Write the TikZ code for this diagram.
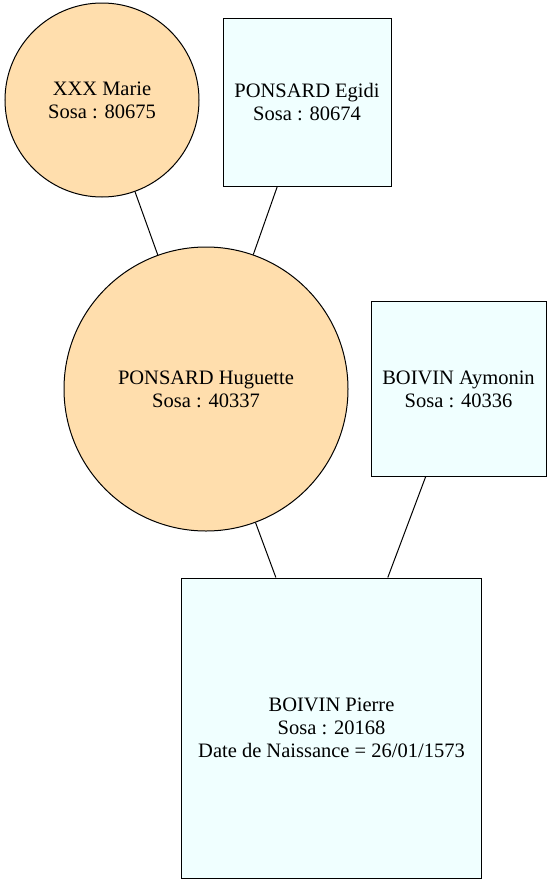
\documentclass[tikz,border=0pt]{standalone}
\usepackage{fontspec}
\setmainfont{Liberation Serif}
\definecolor{femme}{HTML}{FFDEAD}
\definecolor{homme}{HTML}{F0FFFF}

\begin{document}
\begin{tikzpicture}[x=1pt,y=-1pt,line width=1pt,font=\fontsize{20.5}{23}\selectfont]
		\useasboundingbox (0,0) rectangle (551,884);
		\draw (102,100) node [circle, draw, fill=femme, inner sep=0pt, minimum size=194pt, align=center] (marie) {XXX Marie\\Sosa : 80675};
		\draw (307,102) node [rectangle, draw, fill=homme, inner sep=0pt, minimum size=168pt, align=center] (egidi) {PONSARD Egidi\\Sosa : 80674};
		\draw (206,389) node [circle, draw, fill=femme, inner sep=0pt, minimum size=284pt, align=center] (huguette) {PONSARD Huguette\\Sosa : 40337};
		\draw (458.5,389) node [rectangle, draw, fill=homme, inner sep=0pt, minimum size=175pt, align=center] (aymonin) {BOIVIN Aymonin\\Sosa : 40336};
		\draw (331.5,728) node [rectangle, draw, fill=homme, inner sep=0pt, minimum size=300pt, align=center] (pierre) {BOIVIN Pierre\\Sosa : 20168\\Date de Naissance = 26/01/1573};

		\draw 
		(marie) edge (huguette)
		(egidi) edge (huguette)
		(huguette) edge (pierre)
		(aymonin) edge (pierre);
		;
	\end{tikzpicture}
\end{document}
